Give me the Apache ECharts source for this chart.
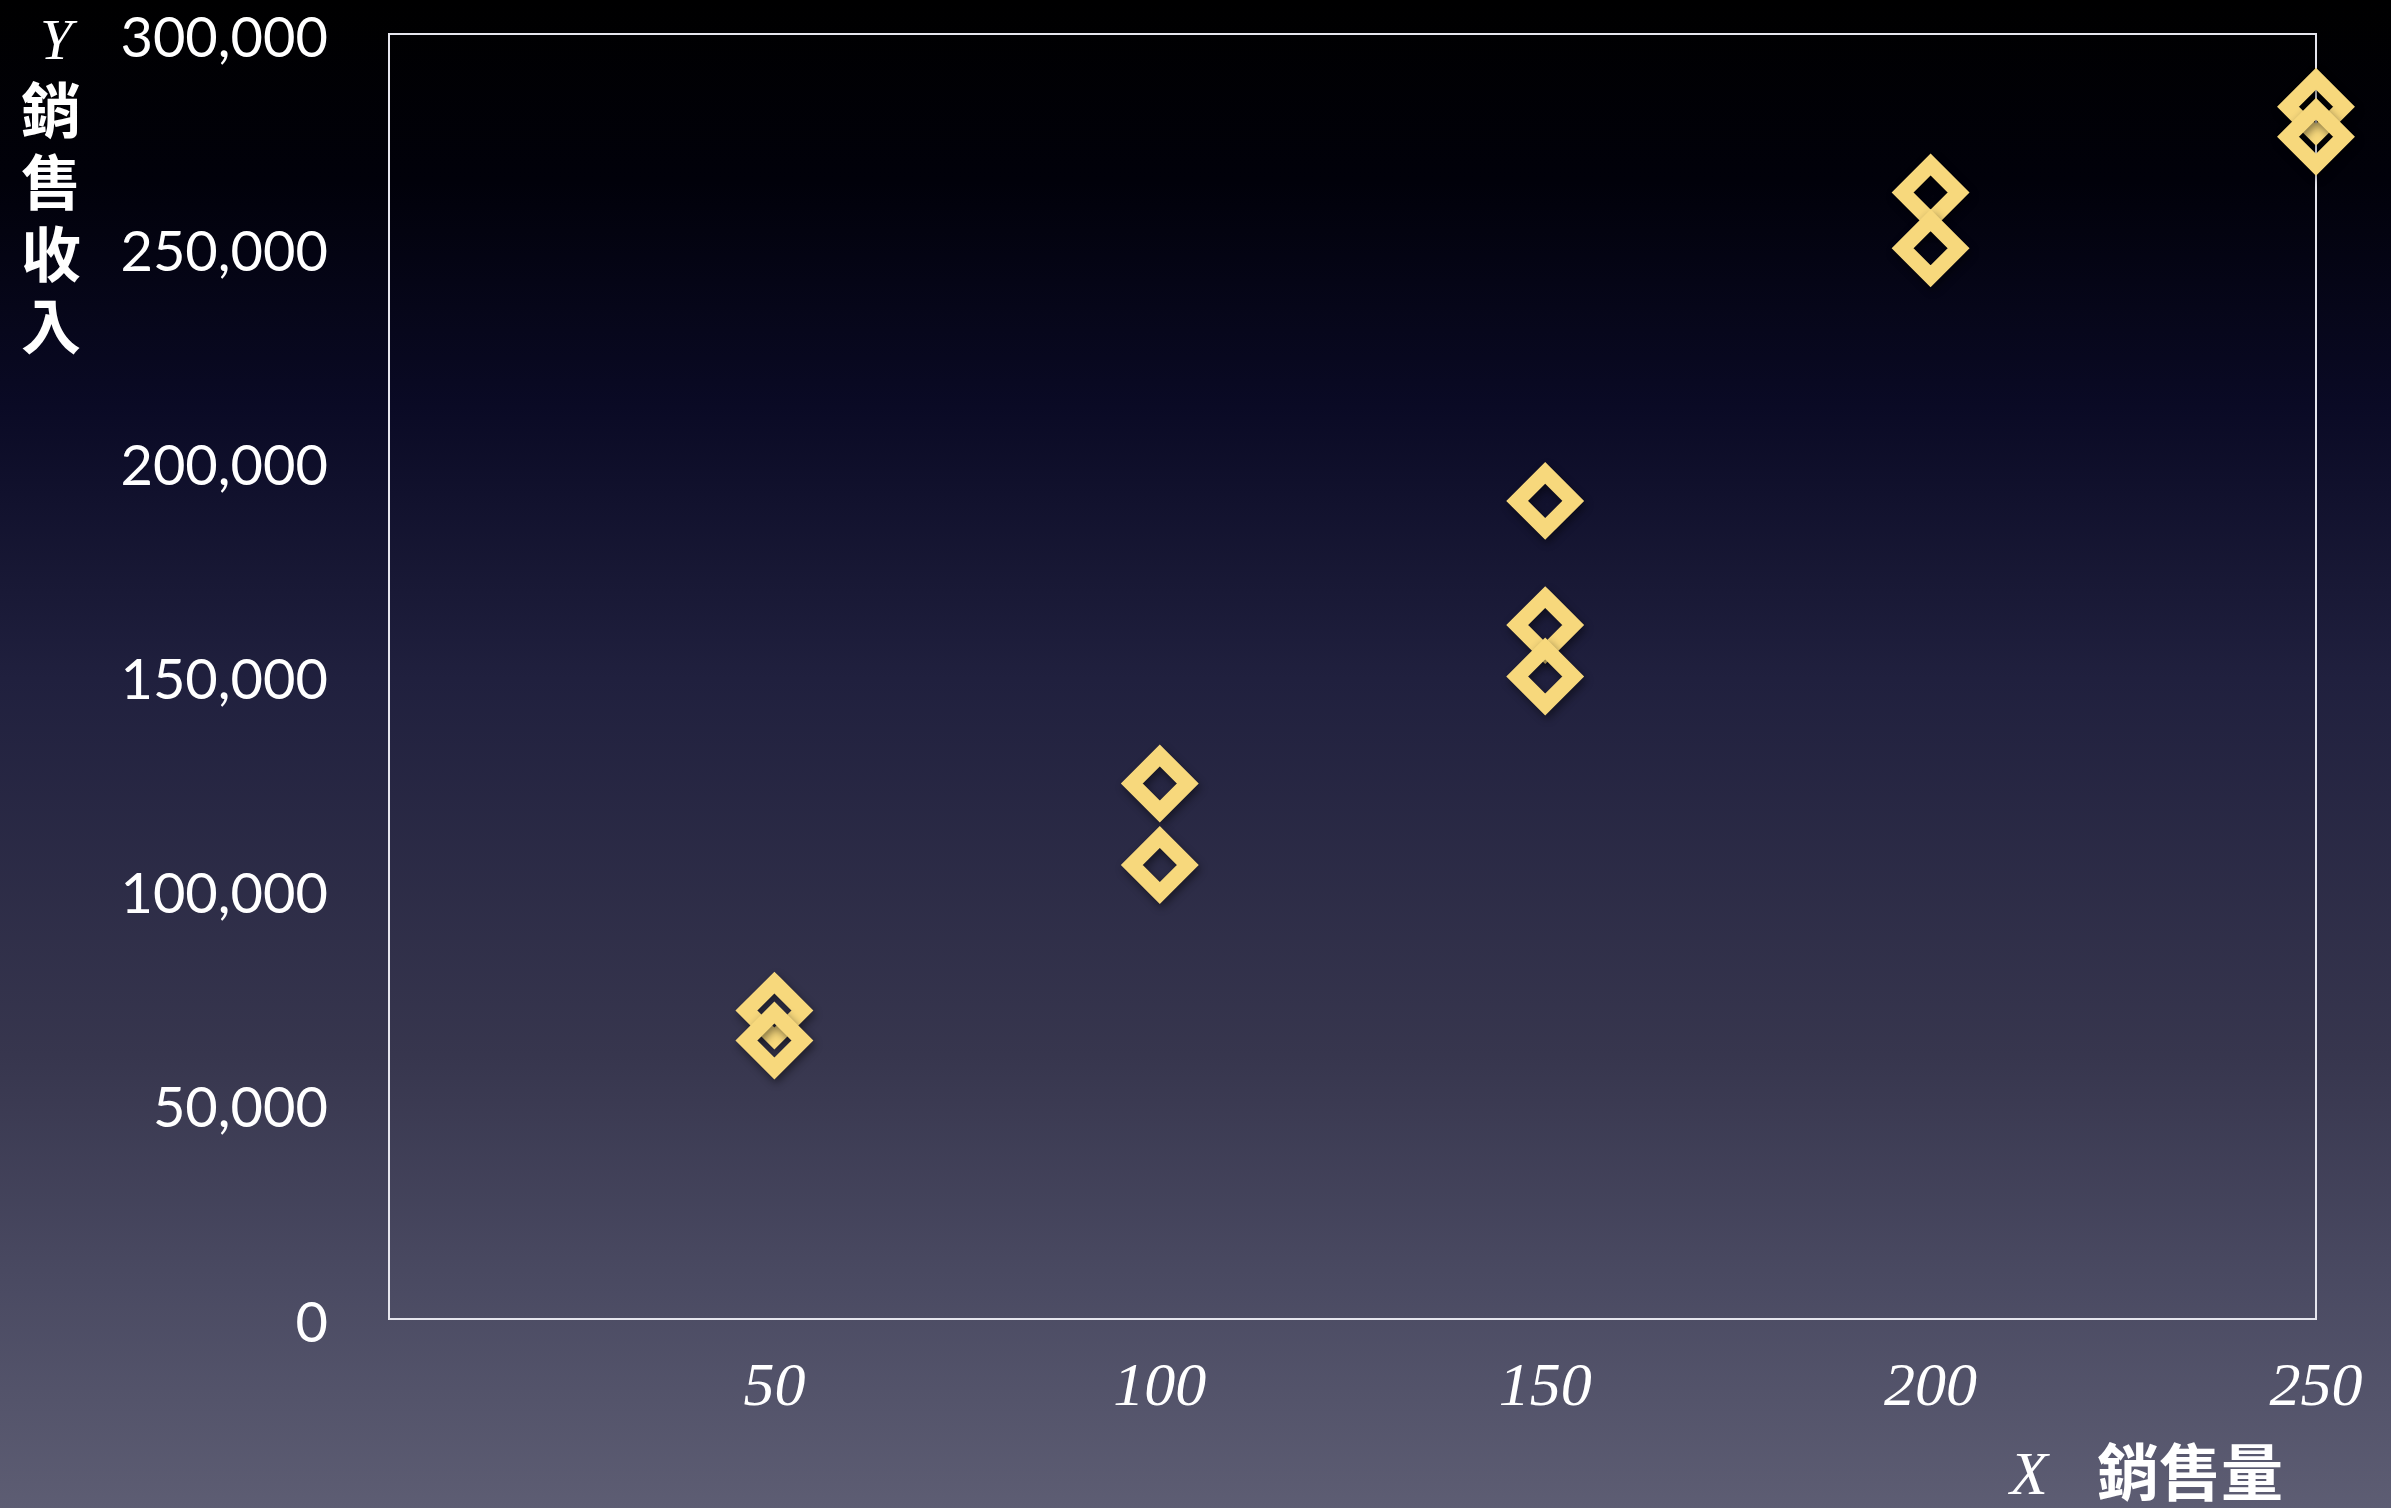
<!DOCTYPE html>
<html>
<head>
<meta charset="utf-8">
<title>銷售量與銷售收入</title>
<script src="https://cdn.jsdelivr.net/npm/echarts@6/dist/echarts.min.js"></script>
<style>
  html, body { margin: 0; padding: 0; width: 100%; height: 100%; background: #000; }
  #chart { width: 2391px; height: 1508px; }
</style>
</head>
<body>
<div id="chart"></div>
<script>
// Sales volume (X) and sales revenue (Y) for each observation
const salesVolume  = [50, 50, 100, 100, 150, 150, 150, 200, 200, 250, 250];
const salesRevenue = [72000, 65000, 125000, 106000, 191000, 162000, 150000, 263000, 250000, 283000, 276000];

// Axis ranges and tick spacing
const xRange = [0, 250];
const xStep = 50;
const yRange = [0, 300000];
const yStep = 50000;

// Axis titles
const xTitleLetter = 'X';
const xTitleText = '銷售量';
const yTitleLetter = 'Y';
const yTitleChars = ['銷', '售', '收', '入'];

const points = salesVolume.map((v, i) => [v, salesRevenue[i]]);

const cjkFont = '"Noto Sans CJK TC", "Noto Sans CJK SC", sans-serif';
const serifFont = '"Liberation Serif", "DejaVu Serif", serif';
const sansFont = 'Lato, "Open Sans", sans-serif';

const chart = echarts.init(document.getElementById('chart'), null, { renderer: 'canvas' });

const yTitleGraphics = [
  {
    type: 'text',
    left: 40, top: 15,
    style: { text: yTitleLetter, fill: '#ffffff', font: 'italic 58px ' + serifFont }
  }
].concat(yTitleChars.map((ch, i) => ({
  type: 'text',
  left: 21, top: 80 + i * 72,
  style: { text: ch, fill: '#ffffff', font: 'bold 60px ' + cjkFont }
})));

const option = {
  backgroundColor: {
    type: 'linear', x: 0, y: 0, x2: 0, y2: 1,
    colorStops: [
      { offset: 0.00, color: '#000000' },
      { offset: 0.12, color: '#01010a' },
      { offset: 0.27, color: '#0a0a25' },
      { offset: 0.45, color: '#20203e' },
      { offset: 0.70, color: '#37364e' },
      { offset: 0.85, color: '#4a4a62' },
      { offset: 1.00, color: '#5d5d73' }
    ]
  },
  animation: false,
  grid: {
    left: 389, top: 34, right: 75, bottom: 189,
    show: true,
    borderColor: '#e6e6ee',
    borderWidth: 2,
    backgroundColor: 'transparent'
  },
  xAxis: {
    type: 'value',
    min: xRange[0], max: xRange[1], interval: xStep,
    axisLine: { show: false },
    axisTick: { show: false },
    splitLine: { show: false },
    axisLabel: {
      showMinLabel: false,
      margin: 39,
      color: '#ffffff',
      fontFamily: serifFont,
      fontStyle: 'italic',
      fontSize: 62
    }
  },
  yAxis: {
    type: 'value',
    min: yRange[0], max: yRange[1], interval: yStep,
    axisLine: { show: false },
    axisTick: { show: false },
    splitLine: { show: false },
    axisLabel: {
      margin: 61,
      color: '#ffffff',
      fontFamily: sansFont,
      fontSize: 56,
      formatter: (v) => '{n|' + v.toLocaleString('en-US') + '}',
      rich: {
        n: {
          color: '#ffffff',
          fontFamily: sansFont,
          fontSize: 56,
          padding: [9, 0, 0, 0]
        }
      }
    }
  },
  series: [{
    type: 'scatter',
    data: points,
    symbol: 'diamond',
    symbolSize: 56,
    itemStyle: {
      color: 'rgba(0,0,0,0)',
      borderColor: '#f7d87c',
      borderWidth: 15.5,
      opacity: 1,
      shadowColor: 'rgba(0,0,0,0.45)',
      shadowBlur: 8,
      shadowOffsetX: 2,
      shadowOffsetY: 4
    },
    emphasis: { disabled: true }
  }],
  graphic: yTitleGraphics.concat([
    {
      type: 'text',
      left: 2010, top: 1447,
      style: { text: xTitleLetter, fill: '#ffffff', font: 'italic 62px ' + serifFont }
    },
    {
      type: 'text',
      left: 2097, top: 1441,
      style: { text: xTitleText, fill: '#ffffff', font: 'bold 62px ' + cjkFont }
    }
  ])
};

chart.setOption(option);
</script>
</body>
</html>
